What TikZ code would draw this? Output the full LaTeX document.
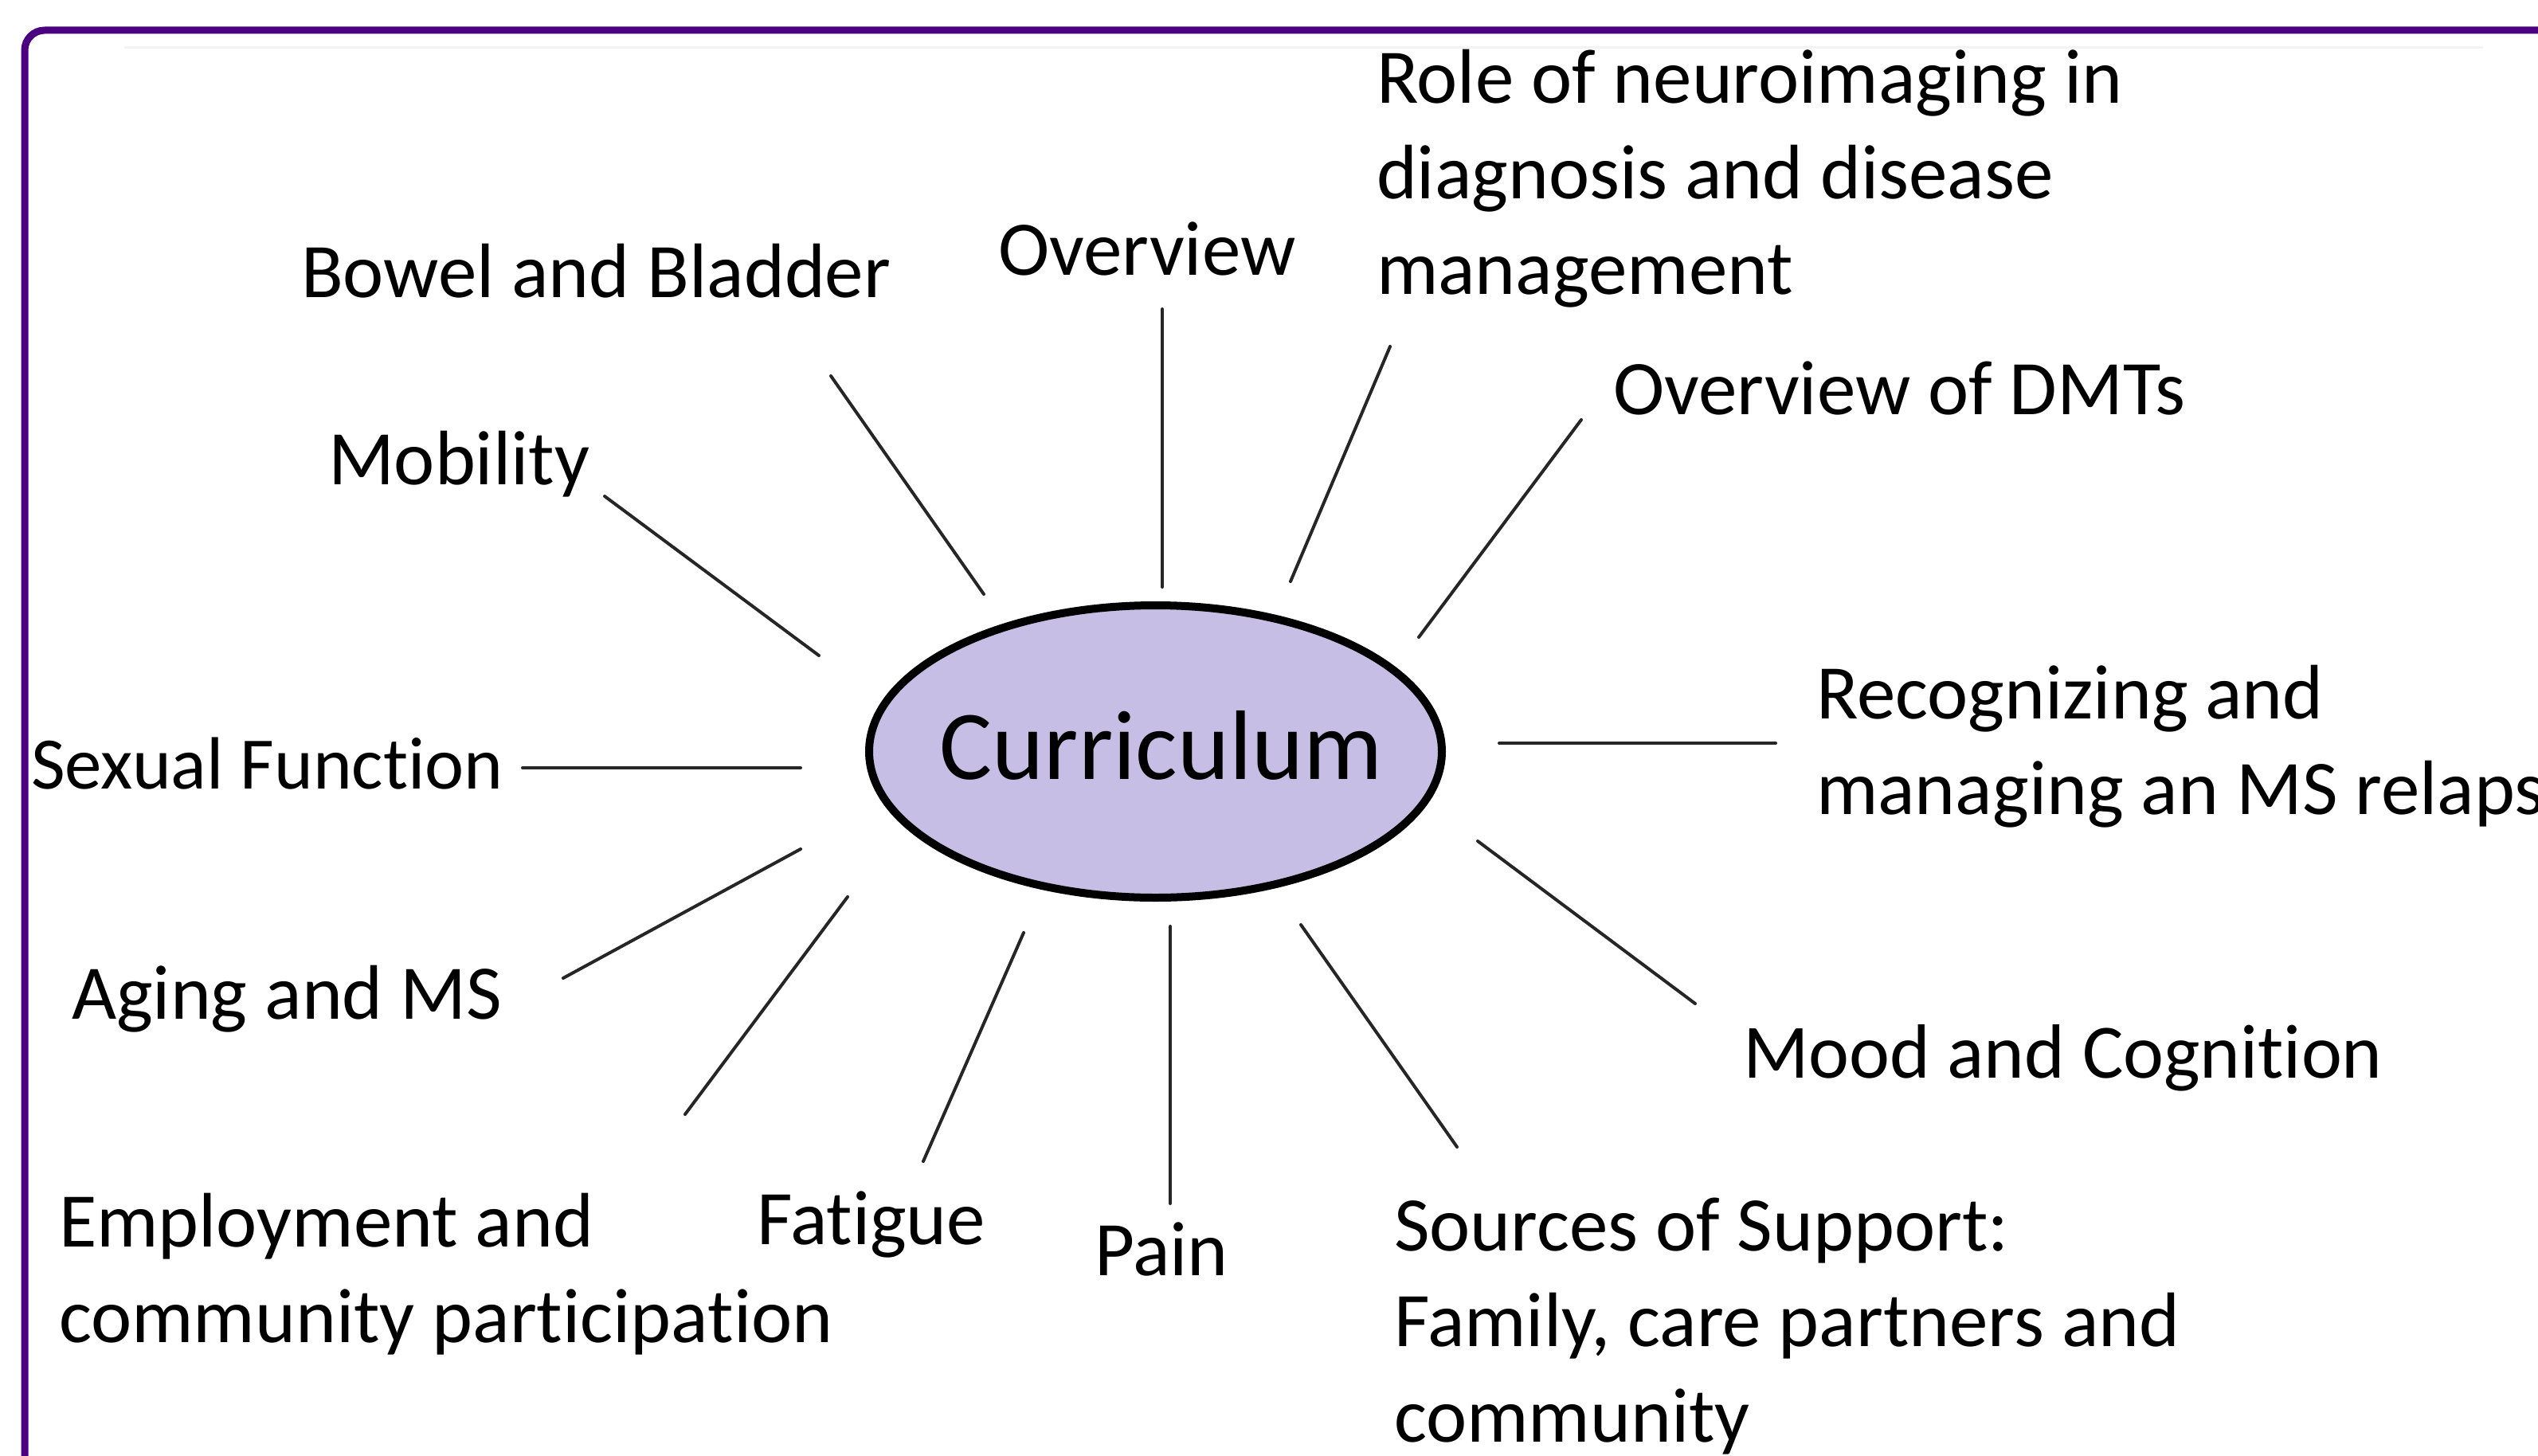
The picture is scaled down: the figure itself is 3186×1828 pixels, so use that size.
\documentclass[tikz,border=0pt]{standalone}
\usepackage{fontspec}
\setmainfont{Carlito}[Ligatures=NoCommon]
\usetikzlibrary{shapes.geometric}
\definecolor{framepurple}{HTML}{4B0082}
\definecolor{ellfill}{HTML}{C6BEE4}
\definecolor{faint}{HTML}{F3F2F8}
\begin{document}
\begin{tikzpicture}[x=1pt,y=-1pt,
  lbl/.style={anchor=base west,inner sep=0pt,outer sep=0pt,font=\fontsize{97}{120}\selectfont},
  spoke/.style={draw=black!85,line width=4pt,line cap=round}]
\useasboundingbox (0,0) rectangle (3186,1828);
\fill[white] (0,0) rectangle (3186,1828);
% frame
\draw[framepurple,line width=9pt,rounded corners=25pt] (31,1900) -- (31,38) -- (3300,38);
\draw[faint,line width=3pt] (156,60) -- (3117,60);
% centre
\node[ellipse,draw=black,fill=ellfill,line width=10pt,minimum width=719pt,minimum height=367pt,inner sep=0pt] (curr) at (1450.5,943.5) {};
\node[anchor=base,inner sep=0pt,font=\fontsize{124}{140}\selectfont] (currtxt) at (1458,978) {Curriculum};
% labels
\node[lbl] (role) at (1728,129) {\begin{tabular}[t]{@{}l@{}}Role of neuroimaging in\\diagnosis and disease\\management\end{tabular}};
\node[lbl] (over) at (1253,345) {Overview};
\node[lbl] (bowel) at (378,373) {Bowel and Bladder};
\node[lbl] (dmt) at (2025,520) {Overview of DMTs};
\node[lbl] (mob) at (412,608) {Mobility};
\node[lbl] (recog) at (2280,902) {\begin{tabular}[t]{@{}l@{}}Recognizing and\\managing an MS relapse\end{tabular}};
\node[lbl,font=\fontsize{93}{120}\selectfont] (sex) at (39,990) {Sexual Function};
\node[lbl] (aging) at (90,1279) {Aging and MS};
\node[lbl,font=\fontsize{96.5}{120}\selectfont] (mood) at (2188,1353) {Mood and Cognition};
\node[lbl] (employ) at (74,1565) {\begin{tabular}[t]{@{}l@{}}Employment and\\community participation\end{tabular}};
\node[lbl] (fat) at (950,1562) {Fatigue};
\node[lbl] (pain) at (1374,1601) {Pain};
\node[lbl] (src) at (1750,1570) {\begin{tabular}[t]{@{}l@{}}Sources of Support:\\Family, care partners and\\community\end{tabular}};
% spoke end points
\coordinate (ovA) at (1459,388);  \coordinate (ovB) at (1459,737);
\coordinate (boA) at (1043,472);  \coordinate (boB) at (1235,746);
\coordinate (moA) at (759,623);   \coordinate (moB) at (1028,823);
\coordinate (sxA) at (656,964);   \coordinate (sxB) at (1005,964);
\coordinate (agA) at (707,1228);  \coordinate (agB) at (1005,1066);
\coordinate (emA) at (860,1399);  \coordinate (emB) at (1064,1126);
\coordinate (faA) at (1159,1458); \coordinate (faB) at (1285,1171);
\coordinate (paA) at (1469,1511); \coordinate (paB) at (1469,1163);
\coordinate (soA) at (1829,1440); \coordinate (soB) at (1633,1161);
\coordinate (mdA) at (2128,1260); \coordinate (mdB) at (1855,1056);
\coordinate (reA) at (2229,933);  \coordinate (reB) at (1882,933);
\coordinate (dmA) at (1985,527);  \coordinate (dmB) at (1781,800);
\coordinate (roA) at (1745,435);  \coordinate (roB) at (1620,730);
\foreach \a/\b in {ovA/ovB,boA/boB,moA/moB,sxA/sxB,agA/agB,emA/emB,faA/faB,paA/paB,soA/soB,mdA/mdB,reA/reB,dmA/dmB,roA/roB}
  \draw[spoke] (\a) -- (\b);
\end{tikzpicture}
\end{document}
